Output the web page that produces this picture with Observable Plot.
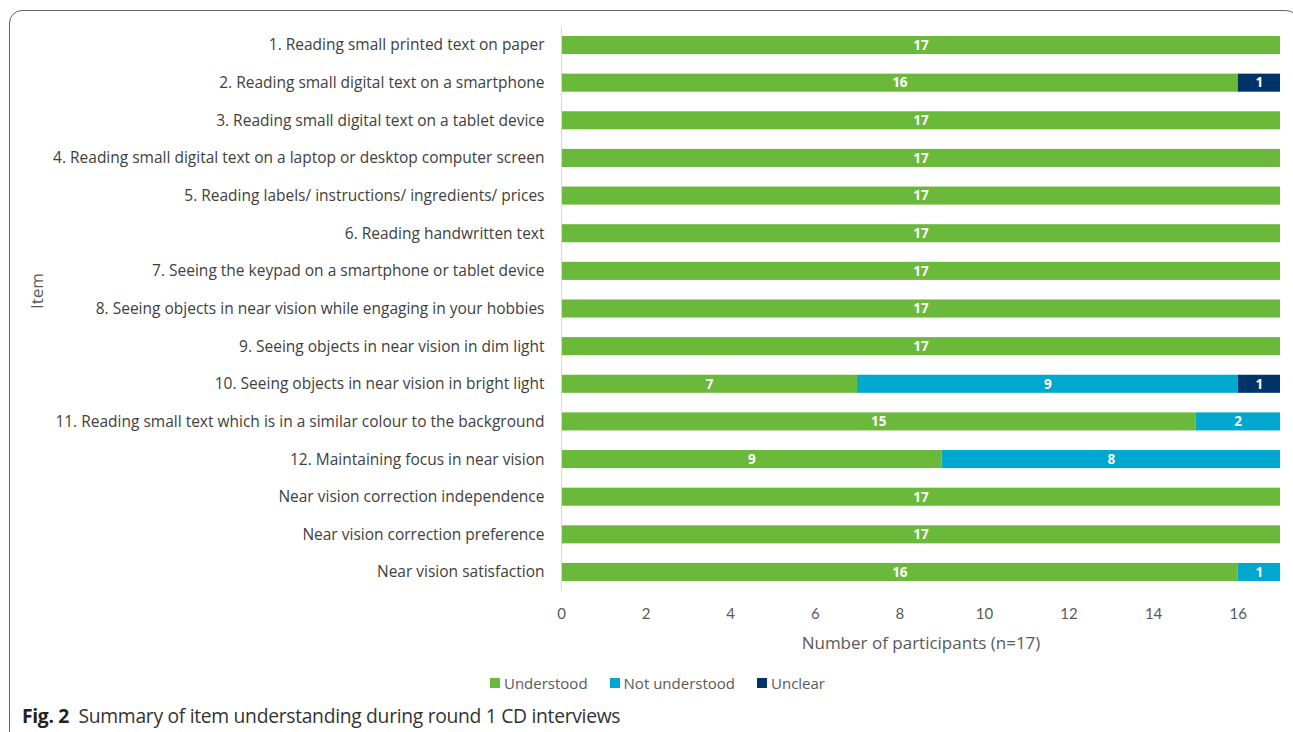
<!DOCTYPE html>
<html>
<head>
<meta charset="utf-8">
<script src="https://cdn.jsdelivr.net/npm/d3@7"></script>
<script src="https://cdn.jsdelivr.net/npm/@observablehq/plot@0.6"></script>
<style>
  html, body { margin: 0; padding: 0; background: #fff; overflow: hidden; }
  #frame { position: absolute; left: 9px; top: 10px; width: 1290px; height: 800px;
    border: 1.5px solid #666; border-radius: 13px; box-sizing: border-box; }
  #chart { position: absolute; left: 0; top: 0; }
  #legend { position: absolute; left: 0; width: 1293px; top: 673px; display: flex; justify-content: center;
    font-family: "Open Sans", sans-serif; font-size: 15px; color: #595959; gap: 22px; padding-left: 22px; box-sizing: border-box; }
  #legend .item { display: flex; align-items: center; gap: 4px; }
  #legend .sw { width: 10px; height: 10px; display: inline-block; }
  #caption { position: absolute; left: 22px; top: 702px; font-family: "Open Sans", sans-serif; font-size: 19.3px; color: #333; letter-spacing: -0.3px; }
  #caption b { font-weight: 700; color: #222; }
</style>
</head>
<body>
<div id="frame"></div>
<div id="chart"></div>
<div id="legend"></div>
<div id="caption"><b>Fig. 2</b>&nbsp; Summary of item understanding during round 1 CD interviews</div>
<script>
const items = [
  "1. Reading small printed text on paper",
  "2. Reading small digital text on a smartphone",
  "3. Reading small digital text on a tablet device",
  "4. Reading small digital text on a laptop or desktop computer screen",
  "5. Reading labels/ instructions/ ingredients/ prices",
  "6. Reading handwritten text",
  "7. Seeing the keypad on a smartphone or tablet device",
  "8. Seeing objects in near vision while engaging in your hobbies",
  "9. Seeing objects in near vision in dim light",
  "10. Seeing objects in near vision in bright light",
  "11. Reading small text which is in a similar colour to the background",
  "12. Maintaining focus in near vision",
  "Near vision correction independence",
  "Near vision correction preference",
  "Near vision satisfaction"
];
const statuses = ["Understood", "Not understood", "Unclear"];
const colors = ["#6bb93a", "#00a7ce", "#003468"];
const understood    = [17, 16, 17, 17, 17, 17, 17, 17, 17, 7, 15, 9, 17, 17, 16];
const notUnderstood = [0, 0, 0, 0, 0, 0, 0, 0, 0, 9, 2, 8, 0, 0, 1];
const unclear       = [0, 1, 0, 0, 0, 0, 0, 0, 0, 1, 0, 0, 0, 0, 0];
const xTicks = [0, 2, 4, 6, 8, 10, 12, 14, 16];

const series = [understood, notUnderstood, unclear];
const data = [];
items.forEach((item, i) => {
  statuses.forEach((s, j) => {
    if (series[j][i] > 0) data.push({item, status: s, value: series[j][i]});
  });
});

const plot = Plot.plot({
  width: 1293,
  height: 660,
  marginLeft: 561,
  marginRight: 13,
  marginTop: 26.2,
  marginBottom: 69.2,
  style: {fontFamily: "'Open Sans', sans-serif", background: "transparent"},
  x: {domain: [0, 17], ticks: xTicks, label: null},
  y: {domain: items, paddingInner: 0.52, paddingOuter: 0.26, round: false, label: null},
  color: {domain: statuses, range: colors},
  marks: [
    Plot.barX(data, Plot.stackX({x: "value", y: "item", fill: "status", order: statuses, insetTop: 0, insetBottom: 0})),
    Plot.text(data, Plot.stackX({x: "value", y: "item", z: "status", order: statuses, text: d => String(d.value),
      fill: "white", fontWeight: "bold", fontSize: 13.5})),
    Plot.ruleX([0], {stroke: "#d9d9d9", strokeWidth: 1}),
    Plot.axisX({ticks: xTicks, tickSize: 0, tickPadding: 17, fontSize: 15, color: "#595959", label: null, fontFamily: "Lato, sans-serif"}),
    Plot.axisY({tickSize: 0, tickPadding: 17, fontSize: 15.5, color: "#404040", label: null}),
    Plot.text(["Number of participants (n=17)"], {frameAnchor: "bottom", lineAnchor: "middle", dy: 52, fontSize: 17, fill: "#595959"}),
    Plot.text(["Item"], {frameAnchor: "left", dx: -524, rotate: -90, fontSize: 17, fill: "#595959"})
  ]
});
document.getElementById("chart").appendChild(plot);

const legend = document.getElementById("legend");
statuses.forEach((s, j) => {
  const it = document.createElement("div");
  it.className = "item";
  it.innerHTML = `<span class="sw" style="background:${colors[j]}"></span><span>${s}</span>`;
  legend.appendChild(it);
});
</script>
</body>
</html>
